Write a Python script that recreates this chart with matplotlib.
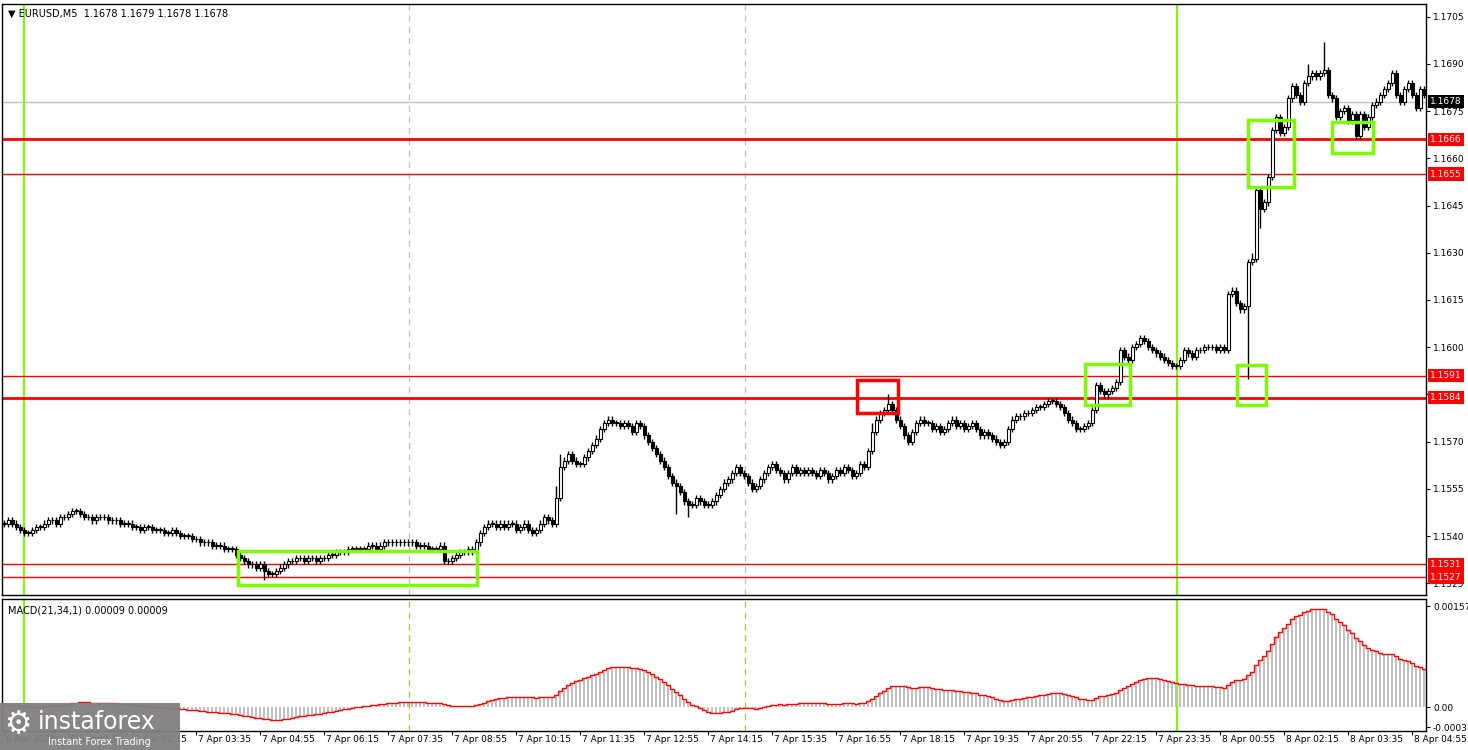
import matplotlib
matplotlib.use("Agg")
import matplotlib.pyplot as plt
import matplotlib.transforms as mtrans
from matplotlib.patches import Rectangle
import numpy as np

# ---- data (closes in pips above 1.1500, 5-minute candles) ----
close_pips = [44,45,44,43,42,41, 41,42,43,43,44, 45,45,44,46,46,47,48,
    48,47,46,46,45,46,46,46, 45,45,45,44,44,44,43,43,42,43,
    43,42,42,42,41,41,42,41,40,40, 40,39,39,38,38,38,37,37,37,36,
    36,36,34,33,32, 31,31,30,31,29,28,28,29,30,31,
    32,32,33,33,32,33,33,32,33,33, 34,34,35,35,35,36,36,36,36,36,
    37,37,36,37,38,38,38,38,38,38, 38,38,37,37,37,36,36,36,37,32,
    32,33,34,35,35,36,35, 38,41,43,44,44,43,44,
    43,44,44,42,43,44,42,41,42,44, 46,45,44, 52,62,64,66,
    64,63,63,65,67,69,71,74,76, 77,76,76,75,76,75,73,76,75,72,
    70,68,66,64,62,59,57,56,54,51, 50,50,52,51,50,50,51,53,55,57,
    58,60,62,60,59,57,55,56,58,60, 62,63,61,60,58,60,62,60,61,60,
    61,60,59,61,60,58,59,61,60,62, 61,59,60,63,62,
    67,73,77,79,80,82,80, 77,75,72,70,73,76,77,76,
    76,74,75,73,74,76,77,75,76,74, 75,76,74,72,73,72,71,70,69,70,
    74,77,78,78,79,79,80,81,81,82,83,83, 82,81,79,
    77,76,74,74,75,76,80, 88,86,85,86, 87,89,99,97,96,
    100,101,103,102,100,99,98,97,96, 95,94,94,96,
    99,98,97,99,99,100,100,100,99,100,99, 117,118,114,112,113,
    127,128,150,144,146,154,169,173,168,170,179,183,180,178,184,186,187,186,
    187,188,180,179,173,175,176,172,174,167,174,170,173,177,178,180,182,184,
    187,180,178,182,184,180,176,182,180,178]
high_extra = {221: 85, 330: 197, 312: 130, 138: 56, 217: 76, 139: 66, 326: 190}
low_extra = {311: 90, 65: 26, 168: 47, 171: 46, 313: 127, 314: 138}

levels_thick = [1.1666, 1.1584]
levels_thin = [1.1655, 1.1591, 1.1531, 1.1527]
last_price = 1.1678
price_ticks = [1.1705, 1.1690, 1.1675, 1.1660, 1.1645, 1.1630, 1.1615, 1.1600,
               1.1585, 1.1570, 1.1555, 1.1540, 1.1525]
time_labels = ["6 Apr 2025", "7 Apr 00:55", "7 Apr 02:15", "7 Apr 03:35", "7 Apr 04:55",
               "7 Apr 06:15", "7 Apr 07:35", "7 Apr 08:55", "7 Apr 10:15", "7 Apr 11:35",
               "7 Apr 12:55", "7 Apr 14:15", "7 Apr 15:35", "7 Apr 16:55", "7 Apr 18:15",
               "7 Apr 19:35", "7 Apr 20:55", "7 Apr 22:15", "7 Apr 23:35", "8 Apr 00:55",
               "8 Apr 02:15", "8 Apr 03:35", "8 Apr 04:55"]
green_boxes = [(58.5, 118.25, 1.15246, 1.15354), (270.25, 281.5, 1.15818, 1.15946),
               (308.25, 315.5, 1.15818, 1.15943), (311.0, 322.5, 1.1651, 1.16721),
               (332.0, 342.25, 1.16618, 1.16714)]
red_boxes = [(213.25, 223.5, 1.1579, 1.15895)]

closes = 1.15 + np.array(close_pips) / 10000.0
n = len(closes)
opens = np.concatenate([[closes[0]], closes[:-1]])
highs = np.maximum(opens, closes) + 0.0001
lows = np.minimum(opens, closes) - 0.0001
for k, v in high_extra.items():
    highs[k] = 1.15 + v / 10000.0
for k, v in low_extra.items():
    lows[k] = 1.15 + v / 10000.0

# MACD(21,34,1)
def ema(x, p):
    a = 2.0 / (p + 1)
    out = np.empty_like(x); out[0] = x[0]
    for i in range(1, len(x)):
        out[i] = a * x[i] + (1 - a) * out[i - 1]
    return out
macd = ema(closes, 21) - ema(closes, 34) + 0.00003

W, H = 1468, 750
fig = plt.figure(figsize=(W / 100, H / 100), dpi=100)
ax = fig.add_axes([2 / W, 1 - 595 / H, 1424 / W, 591 / H])
axm = fig.add_axes([2 / W, 1 - 731 / H, 1424 / W, 132 / H])

x = np.arange(n)
for a_ in (ax, axm):
    a_.set_xlim(-0.5, 355.5)
    for s in a_.spines.values():
        s.set_color("black"); s.set_linewidth(1)
ax.set_ylim(1.15213, 1.1709)
axm.set_ylim(-0.00037, 0.00168)

# vertical separators
for xv in (5, 293.25):
    for a_ in (ax, axm):
        a_.axvline(xv, color="#7cfc00", lw=1.5, zorder=1)
for xv in (101.25, 185.25):
    ax.axvline(xv, color="#c0c0c0", lw=0.9, ls=(0, (5, 4)), zorder=1)
    axm.axvline(xv, color="#9acd32", lw=0.9, ls=(0, (5, 4)), zorder=1)

# levels
ax.axhline(last_price, color="#c0c0c0", lw=1, zorder=1)
for lv in levels_thick:
    ax.axhline(lv, color="#ff0000", lw=2, zorder=2)
for lv in levels_thin:
    ax.axhline(lv, color="#ff0000", lw=1, zorder=2)

# candles
up = closes >= opens
ax.vlines(x, lows, highs, color="black", lw=1, zorder=3)
body_lo = np.minimum(opens, closes)
body_h = np.maximum(np.abs(closes - opens), 0.00002)
ax.bar(x[up], body_h[up], bottom=body_lo[up], width=0.75, color="white",
       edgecolor="black", linewidth=0.8, zorder=4)
ax.bar(x[~up], body_h[~up], bottom=body_lo[~up], width=0.75, color="black",
       edgecolor="black", linewidth=0.8, zorder=4)

# boxes
for x0, x1, y0, y1 in green_boxes:
    ax.add_patch(Rectangle((x0, y0), x1 - x0, y1 - y0, fill=False,
                           edgecolor="#7cfc00", lw=2.5, zorder=5))
for x0, x1, y0, y1 in red_boxes:
    ax.add_patch(Rectangle((x0, y0), x1 - x0, y1 - y0, fill=False,
                           edgecolor="#ff0000", lw=2.5, zorder=5))

# right price axis
ax.yaxis.tick_right()
ax.set_yticks(price_ticks)
ax.set_yticklabels([f"{t:.4f}" for t in price_ticks], fontsize=6.5)
ax.tick_params(axis="y", length=3, pad=2)
ax.set_xticks([])
tr = mtrans.blended_transform_factory(ax.transAxes, ax.transData)
for lv in levels_thick + levels_thin:
    ax.text(1.003, lv, f"{lv:.4f}", transform=tr, fontsize=6.5, color="white",
            va="center", ha="left", zorder=10, clip_on=False,
            bbox=dict(boxstyle="square,pad=0.25", fc="#ff0000", ec="none"))
ax.text(1.003, last_price, f"{last_price:.4f}", transform=tr, fontsize=6.5, color="white",
        va="center", ha="left", zorder=10, clip_on=False,
        bbox=dict(boxstyle="square,pad=0.25", fc="black", ec="none"))
ax.text(0.004, 0.992, "\u25bc EURUSD,M5  1.1678 1.1679 1.1678 1.1678", transform=ax.transAxes,
        fontsize=7, va="top", ha="left")

# MACD
axm.bar(x, macd, width=0.55, color="#c0c0c0", zorder=2)
axm.step(x, macd, where="mid", color="#ff0000", lw=1, zorder=3)
axm.yaxis.tick_right()
axm.set_yticks([0.00157, 0.0, -0.00031])
axm.set_yticklabels(["0.00157", "0.00", "-0.00031"], fontsize=6.5)
axm.tick_params(axis="y", length=3, pad=2)
axm.text(0.004, 0.95, "MACD(21,34,1) 0.00009 0.00009", transform=axm.transAxes,
         fontsize=7, va="top", ha="left")
tick_pos = np.arange(len(time_labels)) * 16
axm.set_xticks(tick_pos)
axm.set_xticklabels([])
axm.tick_params(axis="x", length=3, direction="out")
trx = mtrans.blended_transform_factory(axm.transData, fig.transFigure)
for p, lab in zip(tick_pos, time_labels):
    axm.text(p + 0.6, 1 - 740 / H, lab, transform=trx, fontsize=6.5, ha="left",
             va="center", clip_on=False)

# watermark logo
fig.patches.append(Rectangle((0, 0), 180 / W, 47 / H, transform=fig.transFigure,
                             fc="#808080", alpha=0.95, ec="none", zorder=20))
fig.text(38 / W, 28 / H, "instaforex", color="white", fontsize=17, va="center",
         ha="left", zorder=21)
fig.text(48 / W, 8 / H, "Instant Forex Trading", color="white", fontsize=7,
         va="center", ha="left", zorder=21)
fig.text(18 / W, 25 / H, "\u2699", color="white", fontsize=22, va="center",
         ha="center", zorder=21)

fig.savefig("out.png", dpi=100, facecolor="white")
